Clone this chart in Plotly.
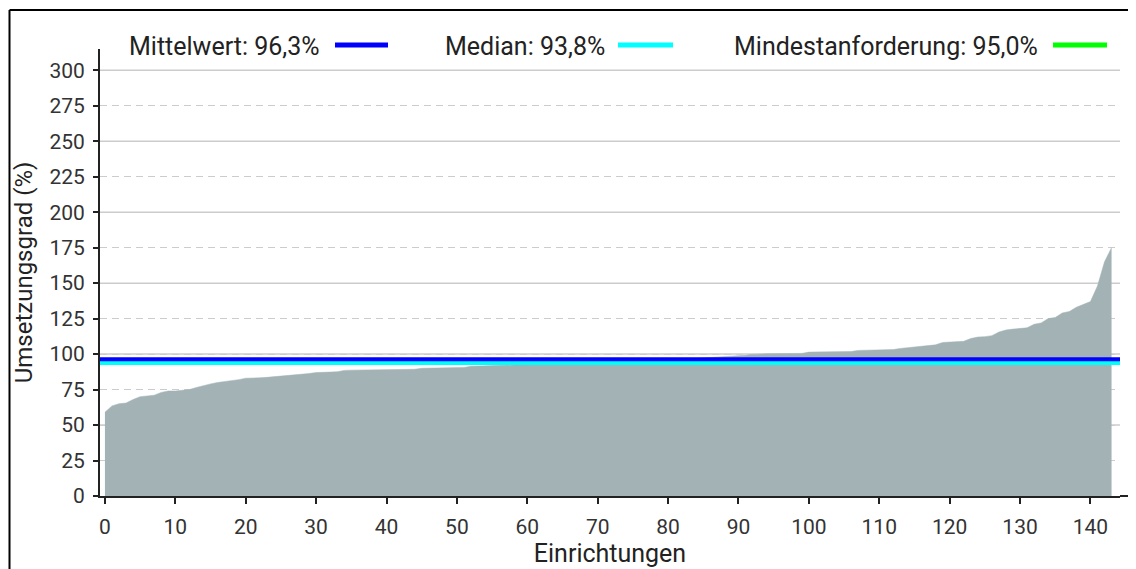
import plotly.graph_objects as go

# Umsetzungsgrad je Einrichtung, aufsteigend sortiert
einrichtungen = list(range(144))
umsetzungsgrad = [
    59.0, 63.5, 65.0, 65.5, 68.0, 70.0, 70.5, 71.0, 73.0, 74.0,
    74.0, 74.5, 75.0, 76.5, 78.0, 79.0, 80.0, 80.5, 81.5, 82.0,
    83.0, 83.0, 83.3, 83.6, 84.0, 84.3, 84.8, 85.5, 86.0, 86.3,
    87.0, 87.0, 87.3, 87.6, 88.5, 88.7, 88.8, 88.8, 88.9, 89.0,
    89.0, 89.0, 89.1, 89.2, 89.3, 90.0, 90.1, 90.2, 90.3, 90.4,
    90.5, 90.6, 91.4, 91.5, 91.6, 91.7, 91.8, 91.9, 92.0, 92.1,
    92.6, 92.8, 93.0, 93.1, 93.2, 93.3, 93.4, 93.5, 93.5, 93.6,
    93.7, 93.7, 93.9, 94.0, 94.2, 94.4, 94.6, 94.8, 95.0, 95.3,
    95.6, 95.9, 96.2, 96.5, 96.8, 97.1, 97.4, 97.7, 98.0, 98.3,
    98.7, 99.2, 99.8, 100.2, 100.2, 100.3, 100.3, 100.4, 100.4, 100.5,
    101.4, 101.5, 101.5, 101.6, 101.6, 101.7, 101.8, 102.6, 102.7, 102.7,
    102.8, 102.9, 103.2, 104.0, 104.5, 105.0, 105.3, 105.8, 106.5, 108.2,
    108.5, 108.6, 109.0, 111.0, 112.0, 112.3, 113.0, 115.5, 117.0, 117.6,
    118.0, 118.5, 121.0, 122.0, 125.0, 125.8, 129.0, 130.0, 133.0, 135.0,
    137.0, 148.0, 165.0, 175.0,
]

kennzahlen = ["Mindestanforderung", "Median", "Mittelwert"]
kennzahl_werte = [95.0, 93.8, 96.3]
kennzahl_farben = ["#00ff00", "#00ffff", "#0000ff"]
legenden_reihenfolge = ["Mittelwert", "Median", "Mindestanforderung"]

y_ticks = list(range(0, 301, 25))
y_solid_grid = list(range(50, 301, 50))
x_ticks = list(range(0, 141, 10))

font_family = "Roboto, Arial, sans-serif"
grid_color = "#cccccc"

# Seite hat 8px Rand, daher alle Pixelangaben um 8 verschoben
offset = 8
plot_left, plot_width = 100 - offset, 1020
plot_bottom, plot_height = 496 - offset, 447


def px_x(p):
    return (p - offset - plot_left) / plot_width


def px_y(p):
    return (plot_bottom - (p - offset)) / plot_height


fig = go.Figure()

fig.add_trace(
    go.Scatter(
        x=einrichtungen,
        y=umsetzungsgrad,
        mode="lines",
        fill="tozeroy",
        fillcolor="#a2b2b5",
        line=dict(color="#a2b2b5", width=0.5),
        showlegend=False,
        hoverinfo="skip",
    )
)

# durchgezogene Gitterlinien alle 50 (unter den gestrichelten, gleiche Farbe)
for g in y_solid_grid:
    fig.add_hline(y=g, line_color=grid_color, line_width=1.5, layer="below")

# Kennzahl-Linien ueber die ganze Breite
for name, wert, farbe in zip(kennzahlen, kennzahl_werte, kennzahl_farben):
    fig.add_hline(y=wert, line_color=farbe, line_width=4, layer="above")

# Legende: Text links, Linienmuster rechts
legend_text_end = [322, 607, 1040]
legend_line_x = [(335, 388), (618, 673), (1053, 1107)]

for name, text_end, (lx0, lx1) in zip(legenden_reihenfolge, legend_text_end, legend_line_x):
    idx = kennzahlen.index(name)
    label = f"{name}: {kennzahl_werte[idx]:.1f}%".replace(".", ",")
    fig.add_annotation(
        x=px_x(text_end), y=px_y(47), xref="paper", yref="paper",
        text=label, showarrow=False, xanchor="right", yanchor="middle",
        font=dict(family=font_family, size=25, color="#222222"),
    )
    fig.add_shape(
        type="line", xref="paper", yref="paper",
        x0=px_x(lx0), x1=px_x(lx1), y0=px_y(45), y1=px_y(45),
        line=dict(color=kennzahl_farben[idx], width=5),
    )

# Rahmen oben und links
fig.add_shape(
    type="line", xref="paper", yref="paper",
    x0=px_x(9.5), x1=px_x(1144), y0=px_y(10), y1=px_y(10),
    line=dict(color="black", width=2),
)
fig.add_shape(
    type="line", xref="paper", yref="paper",
    x0=px_x(9.5), x1=px_x(9.5), y0=px_y(10), y1=px_y(580),
    line=dict(color="black", width=2),
)
# x-Achsenlinie bis zum rechten Rand
fig.add_shape(
    type="line", xref="paper", yref="paper",
    x0=1.0, x1=px_x(1140), y0=0, y1=0,
    line=dict(color="#222222", width=2),
)

fig.update_layout(
    width=1136,
    height=569,
    autosize=False,
    margin=dict(l=plot_left, r=1136 - plot_left - plot_width,
                t=plot_bottom - plot_height, b=569 - plot_bottom),
    plot_bgcolor="white",
    paper_bgcolor="white",
    font=dict(family=font_family, size=21, color="#333333"),
    showlegend=False,
    xaxis=dict(
        range=[-0.7, 144.2],
        tickvals=x_ticks,
        ticks="outside",
        ticklen=6,
        tickwidth=2,
        tickcolor="#222222",
        showline=True,
        linecolor="#222222",
        linewidth=2,
        showgrid=False,
        zeroline=False,
        ticklabelstandoff=5,
        title=dict(text="Einrichtungen", font=dict(size=25, color="#222222"), standoff=6),
        tickfont=dict(size=21),
    ),
    yaxis=dict(
        range=[0, 315],
        tickvals=y_ticks,
        ticks="outside",
        ticklen=5,
        tickwidth=1.5,
        tickcolor="#222222",
        showline=True,
        linecolor="#222222",
        linewidth=2,
        showgrid=True,
        gridcolor=grid_color,
        gridwidth=1.2,
        griddash="7px,5px",
        zeroline=False,
        ticklabelstandoff=4,
        title=dict(text="Umsetzungsgrad (%)", font=dict(size=24, color="#222222"), standoff=10),
        tickfont=dict(size=21),
    ),
)

fig.write_html("out.html")
